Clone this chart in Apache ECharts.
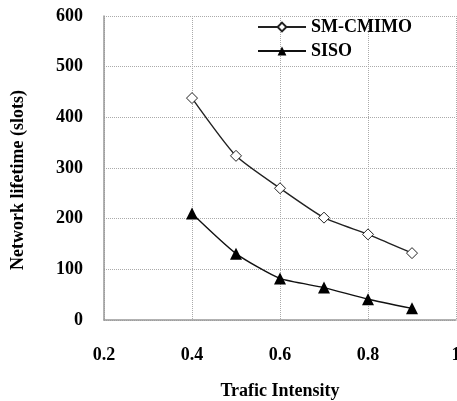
<!DOCTYPE html>
<html lang="en">
<head>
    <meta charset="UTF-8">
    <title>Network lifetime</title>
    <script src="https://cdn.jsdelivr.net/npm/echarts@6/dist/echarts.min.js"></script>
    <style>
        html, body { margin: 0; padding: 0; background: #fff; }
        #chart { width: 457px; height: 401px; }
    </style>
</head>
<body>
<div id="chart"></div>
<script type="text/javascript">
    var intensity = [0.4, 0.5, 0.6, 0.7, 0.8, 0.9];
    var smCmimo = [438, 324, 260, 202, 169, 132];
    var siso = [210, 131, 82, 64, 41, 23];

    function pairs(xs, ys) {
        var out = [];
        for (var i = 0; i < xs.length; i++) {
            out.push([xs[i], ys[i]]);
        }
        return out;
    }

    var font = 'Liberation Serif';
    var myChart = echarts.init(document.getElementById('chart'));
    var option = {
        animation: false,
        grid: {left: 104, top: 16, right: 1, bottom: 81, outerBoundsMode: 'none'},
        legend: {
            orient: 'vertical',
            left: 252,
            top: 13,
            itemWidth: 48,
            itemHeight: 11,
            itemGap: 6,
            textStyle: {fontFamily: font, fontWeight: 'bold', fontSize: 18, color: '#000'},
            data: ['SM-CMIMO', 'SISO']
        },
        xAxis: {
            type: 'value',
            min: 0.2,
            max: 1.0,
            interval: 0.2,
            name: 'Trafic Intensity',
            nameLocation: 'middle',
            nameGap: 62,
            nameTextStyle: {fontFamily: font, fontWeight: 'bold', fontSize: 18, color: '#000'},
            axisLine: {lineStyle: {color: '#999', width: 1.5}},
            axisTick: {show: false},
            axisLabel: {
                margin: 26,
                fontFamily: font, fontWeight: 'bold', fontSize: 18, color: '#000'
            },
            splitLine: {lineStyle: {color: '#aaa', type: 'dotted'}}
        },
        yAxis: {
            type: 'value',
            min: 0,
            max: 600,
            interval: 100,
            name: 'Network lifetime (slots)',
            nameLocation: 'middle',
            nameGap: 77,
            nameTextStyle: {
                fontFamily: font, fontWeight: 'bold', fontSize: 18, color: '#000',
                padding: [0, 24, 0, 0]
            },
            axisLine: {show: true, lineStyle: {color: '#999', width: 1.5}},
            axisTick: {show: false},
            axisLabel: {
                margin: 21,
                fontFamily: font, fontWeight: 'bold', fontSize: 18, color: '#000'
            },
            splitLine: {lineStyle: {color: '#aaa', type: 'dotted'}}
        },
        series: [
            {
                name: 'SM-CMIMO',
                type: 'line',
                smooth: 0.2,
                data: pairs(intensity, smCmimo),
                symbol: 'diamond',
                symbolSize: 11,
                lineStyle: {color: '#222', width: 1.4},
                itemStyle: {color: '#fff', borderColor: '#222', borderWidth: 1}
            },
            {
                name: 'SISO',
                type: 'line',
                smooth: 0.2,
                data: pairs(intensity, siso),
                symbol: 'triangle',
                symbolSize: 12,
                lineStyle: {color: '#111', width: 1.4},
                itemStyle: {color: '#000'}
            }
        ]
    };
    myChart.setOption(option);
</script>
</body>
</html>
